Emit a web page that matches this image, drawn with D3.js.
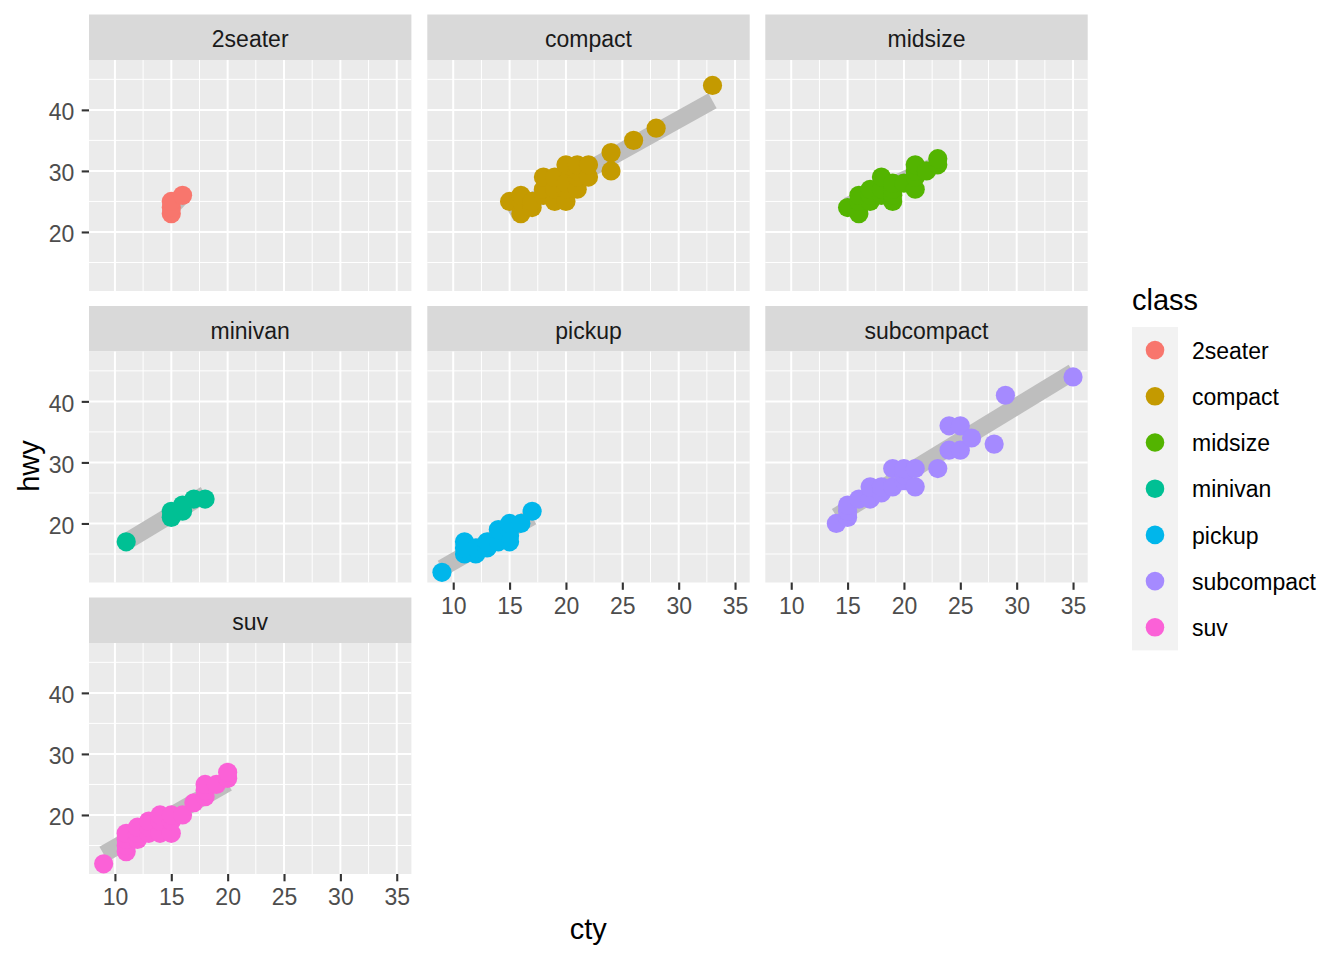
<!DOCTYPE html>
<html>
<head>
<meta charset="utf-8">
<script src="https://cdn.jsdelivr.net/npm/d3@7"></script>
<style>
  body { margin: 0; background: #ffffff; }
  text { font-family: "Liberation Sans", Arial, sans-serif; }
</style>
</head>
<body>
<svg id="chart" width="1344" height="960"></svg>
<script>
// facet order and colours (ggplot default hue palette)
const classNames = ["2seater", "compact", "midsize", "minivan", "pickup", "subcompact", "suv"];
const classColors = ["#F8766D", "#C49A00", "#53B400", "#00C094", "#00B6EB", "#A58AFF", "#FB61D7"];

const ctyTicks = [10, 15, 20, 25, 30, 35];
const ctyMinor = [12.5, 17.5, 22.5, 27.5, 32.5];
const hwyTicks = [20, 30, 40];
const hwyMinor = [15, 25, 35, 45];

// [cty, hwy] per class
const twoSeater = [[15, 23], [15, 24], [15, 25], [16, 26]];
const compact = [[15, 25], [16, 23], [16, 25], [16, 26], [17, 24], [17, 25], [18, 26], [18, 27], [18, 29],
  [19, 25], [19, 27], [19, 29], [20, 25], [20, 27], [20, 28], [20, 31], [21, 27], [21, 29], [21, 30],
  [21, 31], [22, 29], [22, 31], [24, 30], [24, 33], [26, 35], [28, 37], [33, 44]];
const midsize = [[15, 24], [16, 23], [16, 25], [16, 26], [17, 25], [17, 26], [17, 27], [18, 26], [18, 27],
  [18, 29], [19, 25], [19, 26], [19, 27], [19, 28], [20, 28], [21, 27], [21, 29], [21, 30], [21, 31],
  [22, 30], [23, 31], [23, 32]];
const minivan = [[11, 17], [15, 21], [15, 22], [16, 22], [16, 23], [17, 24], [18, 24]];
const pickup = [[9, 12], [11, 15], [11, 16], [11, 17], [12, 15], [12, 16], [13, 16], [13, 17], [14, 17],
  [14, 19], [15, 17], [15, 18], [15, 19], [15, 20], [16, 20], [17, 22]];
const subcompact = [[14, 20], [15, 21], [15, 22], [15, 23], [16, 24], [17, 24], [17, 26], [18, 25], [18, 26],
  [19, 26], [19, 29], [20, 27], [20, 28], [20, 29], [21, 26], [21, 29], [23, 29], [24, 32], [24, 36],
  [25, 32], [25, 36], [26, 34], [28, 33], [29, 41], [35, 44]];
const suv = [[9, 12], [11, 14], [11, 15], [11, 16], [11, 17], [12, 16], [12, 17], [12, 18], [13, 17],
  [13, 18], [13, 19], [14, 17], [14, 19], [14, 20], [15, 17], [15, 19], [15, 20], [16, 20], [17, 22],
  [18, 23], [18, 24], [18, 25], [19, 25], [20, 26], [20, 27]];

// linear fit ends per class: [cty0, hwy0, cty1, hwy1]
const fitLines = [[15, 24, 16, 26], [15, 23.0, 33, 41.5], [15, 24.3, 23, 31.1], [11, 17.0, 18, 24.8],
  [9, 12.7, 17, 21.1], [14, 21.2, 35, 44.8], [9, 13.6, 20, 25.2]];

const classPoints = [twoSeater, compact, midsize, minivan, pickup, subcompact, suv];

// layout
const panelW = 322.4, panelH = 231, stripH = 45.5;
const colX = [89, 427.3, 765.3];
const rowY = [14.5, 306, 597.5];
const nCol = 3;

const svg = d3.select("#chart");

const x = d3.scaleLinear().domain([7.7, 36.3]).range([0, panelW]);
const y = d3.scaleLinear().domain([10.33, 48.17]).range([panelH, 0]);
const line = d3.line().x(d => x(d[0])).y(d => y(d[1]));

classNames.forEach(function (name, i)
{
    var col = i % nCol, row = Math.floor(i / nCol);
    var g = svg.append("g").attr("transform", `translate(${colX[col]},${rowY[row]})`);

    // strip
    g.append("rect").attr("width", panelW).attr("height", stripH).attr("fill", "#D9D9D9");
    g.append("text")
        .attr("x", panelW / 2).attr("y", 32.8)
        .attr("text-anchor", "middle")
        .attr("font-size", 23).attr("fill", "#1A1A1A")
        .text(name);

    var p = g.append("g").attr("transform", `translate(0,${stripH})`);
    p.append("rect").attr("width", panelW).attr("height", panelH).attr("fill", "#EBEBEB");

    // grid
    p.selectAll(".vmin").data(ctyMinor).enter().append("line")
        .attr("x1", d => x(d)).attr("x2", d => x(d)).attr("y1", 0).attr("y2", panelH)
        .attr("stroke", "#ffffff").attr("stroke-width", 1);
    p.selectAll(".hmin").data(hwyMinor).enter().append("line")
        .attr("y1", d => y(d)).attr("y2", d => y(d)).attr("x1", 0).attr("x2", panelW)
        .attr("stroke", "#ffffff").attr("stroke-width", 1);
    p.selectAll(".vmaj").data(ctyTicks).enter().append("line")
        .attr("x1", d => x(d)).attr("x2", d => x(d)).attr("y1", 0).attr("y2", panelH)
        .attr("stroke", "#ffffff").attr("stroke-width", 2);
    p.selectAll(".hmaj").data(hwyTicks).enter().append("line")
        .attr("y1", d => y(d)).attr("y2", d => y(d)).attr("x1", 0).attr("x2", panelW)
        .attr("stroke", "#ffffff").attr("stroke-width", 2);

    // fitted line
    var f = fitLines[i];
    p.append("path")
        .attr("d", line([[f[0], f[1]], [f[2], f[3]]]))
        .attr("fill", "none")
        .attr("stroke", "#BEBEBE")
        .attr("stroke-width", 17)
        .attr("stroke-linecap", "butt");

    // points
    p.selectAll("circle").data(classPoints[i]).enter().append("circle")
        .attr("cx", d => x(d[0])).attr("cy", d => y(d[1]))
        .attr("r", 9.6)
        .attr("fill", classColors[i]);

    // y axis on first column
    if (col == 0)
    {
        var ya = p.append("g").call(d3.axisLeft(y).tickValues(hwyTicks).tickSize(7.3).tickPadding(7.3));
        styleAxis(ya);
        ya.selectAll("text").attr("dy", "0.42em");
    }

    // x axis where nothing sits below
    if (i + nCol >= classNames.length)
    {
        var xa = p.append("g").attr("transform", `translate(0,${panelH})`)
            .call(d3.axisBottom(x).tickValues(ctyTicks).tickSize(7.3).tickPadding(7.4));
        styleAxis(xa);
    }
});

function styleAxis(a)
{
    a.select(".domain").remove();
    a.selectAll("line").attr("stroke", "#333333").attr("stroke-width", 2.1);
    a.selectAll("text").attr("font-size", 23).attr("fill", "#4D4D4D")
        .attr("font-family", "Liberation Sans, Arial, sans-serif");
}

// axis titles
svg.append("text")
    .attr("x", colX[0] + (colX[2] + panelW - colX[0]) / 2).attr("y", 939)
    .attr("text-anchor", "middle").attr("font-size", 29).attr("fill", "#000000")
    .text("cty");
svg.append("text")
    .attr("transform", "translate(39,466) rotate(-90)")
    .attr("text-anchor", "middle").attr("font-size", 29).attr("fill", "#000000")
    .text("hwy");

// legend
const lg = svg.append("g").attr("transform", "translate(1132,0)");
lg.append("text").attr("x", 0).attr("y", 310).attr("font-size", 29).attr("fill", "#000000").text("class");
const keyH = 46.2, keyTop = 327;
lg.append("rect").attr("x", 0).attr("y", keyTop).attr("width", 46).attr("height", keyH * classNames.length)
    .attr("fill", "#F2F2F2");
const keys = lg.selectAll(".key").data(classNames).enter().append("g")
    .attr("transform", (d, i) => `translate(0,${keyTop + keyH / 2 + i * keyH})`);
keys.append("circle").attr("cx", 23).attr("cy", 0).attr("r", 9.3).attr("fill", (d, i) => classColors[i]);
keys.append("text").attr("x", 60).attr("y", 8.6).attr("font-size", 23).attr("fill", "#000000").text(d => d);
</script>
</body>
</html>
